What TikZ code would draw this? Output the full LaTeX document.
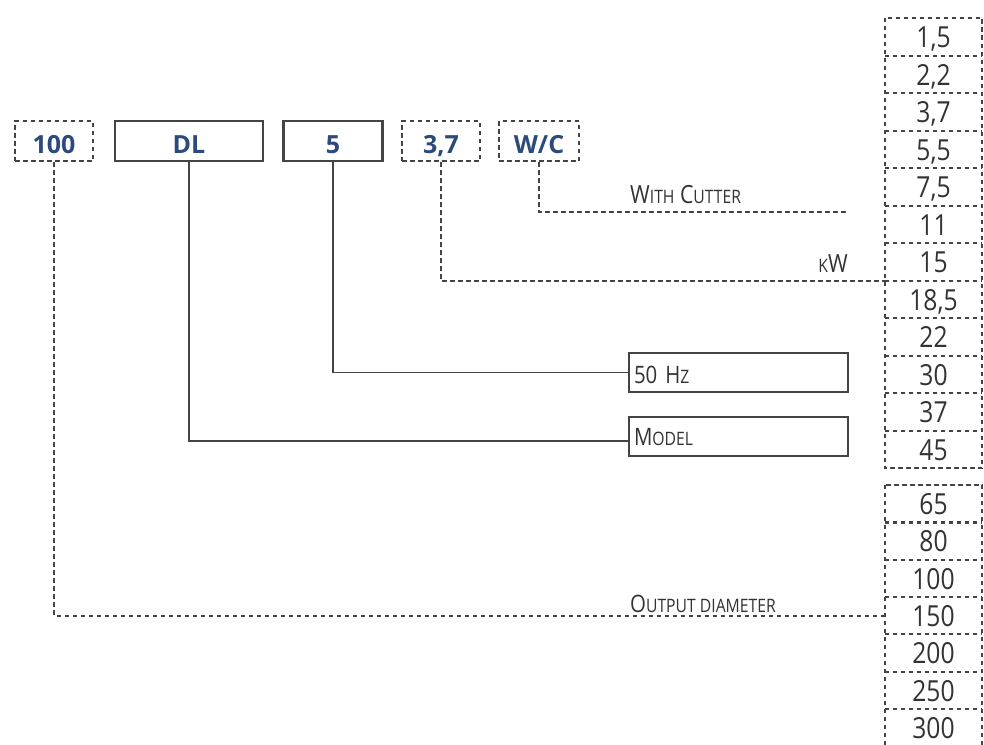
\documentclass[tikz,border=0pt]{standalone}
\usepackage{fontspec}
\setmainfont{Open Sans}
\newfontfamily\cond[FakeStretch=0.85]{Open Sans}
\usetikzlibrary{calc}
\definecolor{lblblue}{HTML}{2C4A7C}
\definecolor{linegray}{HTML}{444444}
\definecolor{txtgray}{HTML}{333333}
\tikzset{
  dashline/.style={draw=linegray, line width=2.1pt, dash pattern=on 4.5pt off 3.5pt},
  solidline/.style={draw=linegray, line width=1.8pt},
  codebox/.style={inner sep=0pt, minimum height=40pt, text height=26pt, text depth=2pt,
    font=\fontsize{25}{25}\selectfont\bfseries, text=lblblue},
  dashbox/.style={codebox, dashline},
  solidbox/.style={codebox, draw=linegray, line width=2.2pt},
  infobox/.style={draw=linegray, line width=2pt, inner ysep=0pt, inner xsep=5pt,
    text width=209pt, align=left, minimum height=39pt, text depth=2pt,
    font=\cond\fontsize{24}{24}\selectfont, text=txtgray},
  cell/.style={inner sep=0pt, minimum width=97pt, text height=24pt, text depth=2pt,
    font=\cond\fontsize{29}{29}\selectfont, text=txtgray},
  note/.style={inner sep=0pt, font=\cond\fontsize{25}{25}\selectfont, text=txtgray},
}
\newcommand{\smc}[1]{{\fontsize{18.5}{18.5}\selectfont #1}}
\begin{document}
\begin{tikzpicture}[x=1pt,y=-1pt]
\useasboundingbox[fill=white] (0,0) rectangle (984,744);
% code boxes
\node[dashbox,  minimum width=78pt]  (c100) at (54,141)    {100};
\node[solidbox, minimum width=148pt] (cdl)  at (189,141)   {DL};
\node[solidbox, minimum width=99pt]  (c5)   at (333,141)   {5};
\node[dashbox,  minimum width=78pt]  (c37)  at (441,141)   {3,7};
\node[dashbox,  minimum width=80pt]  (cwc)  at (539,141)   {W/C};
% info boxes
\node[infobox, text height=23pt] (hz)    at (738.5,372.5) {50 H\smc{Z}};
\node[infobox, text height=20pt] (model) at (738.5,436)   {M\smc{ODEL}};
% table group 1
\foreach [count=\i] \v in {{1,5},{2,2},{3,7},{5,5},{7,5},{11},{15},{18,5},{22},{30},{37},{45}}
  \node[cell, minimum height=37.5pt] (a\i) at (933.5,{18+37.5*(\i-0.5)}) {\v};
\draw[dashline] (a1.north west) rectangle (a12.south east);
\foreach \i in {1,...,11}
  \draw[dashline] (a\i.south west) -- (a\i.south east);
% table group 2
\foreach [count=\i] \v in {65,80,100,150,200,250,300}
  \node[cell, minimum height=37.3pt] (b\i) at (933.5,{485+37.3*(\i-0.5)}) {\v};
\draw[dashline] (b1.north west) rectangle (b7.south east);
\foreach \i in {1,...,6}
  \draw[dashline] (b\i.south west) -- (b\i.south east);
% labels
\coordinate (wcend) at (848,212);
\node[note, anchor=base west] (lwc) at (630,203) {W\smc{ITH} C\smc{UTTER}};
\node[note, anchor=base east] (lkw) at (848,272) {\smc{K}W};
\node[note, anchor=base west, font=\cond\fontsize{24}{24}\selectfont] (lod) at (630,612) {O\smc{UTPUT DIAMETER}};
% connectors
\draw[dashline]  (cwc.south) |- (wcend);
\draw[dashline]  (c37.south) |- (a7.south west);
\draw[solidline] (c5.south) |- (hz.west);
\draw[solidline] (cdl.south) |- ($(model.west)+(0,5)$);
\draw[dashline]  (c100.south) |- (b4.west);
\end{tikzpicture}
\end{document}
